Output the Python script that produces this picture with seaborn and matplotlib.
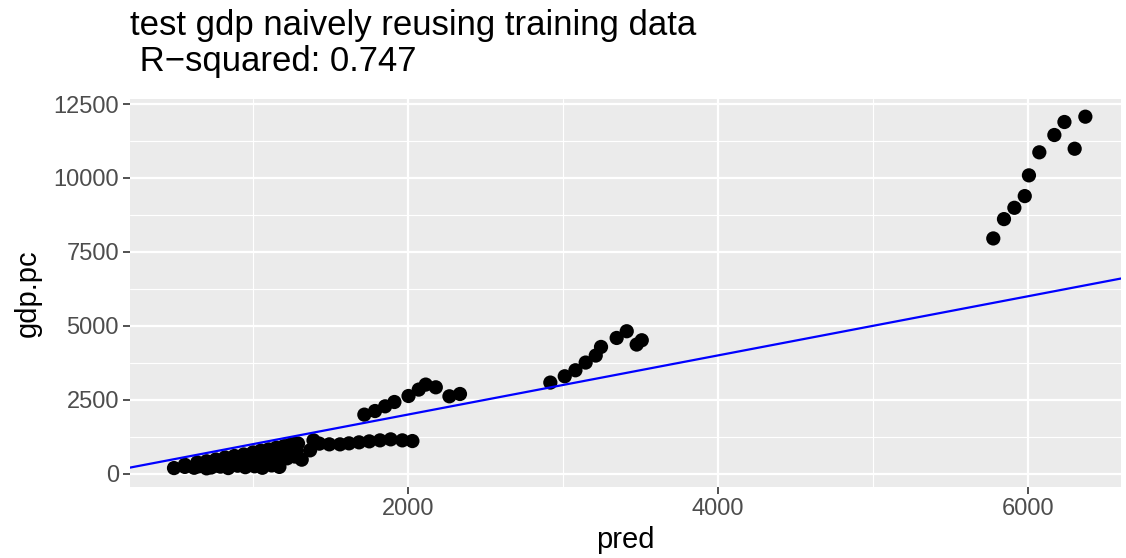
import seaborn as sns
import matplotlib.pyplot as plt
import pandas as pd
from matplotlib.ticker import MultipleLocator

# points, grouped by cluster
pred_low = [490, 560, 620, 680, 730, 790, 840, 900, 950, 1010, 1060, 1120, 1170,
            560, 640, 700, 760, 820, 880, 940, 1000, 1050, 1100, 1150, 1200, 1240, 1290,
            650, 720, 790, 850, 910, 970, 1030, 1080, 1130, 1180, 1230, 1280,
            700, 780, 860, 930, 990, 1050, 1110, 1170, 1220, 1270]
gdp_low = [190, 230, 200, 260, 210, 240, 190, 270, 220, 250, 200, 280, 230,
           300, 380, 420, 480, 550, 600, 650, 720, 780, 820, 880, 930, 980, 1020,
           250, 320, 360, 380, 420, 470, 500, 540, 600, 650, 700, 760,
           180, 260, 300, 340, 320, 380, 420, 480, 520, 580]

pred_flat = [2028, 1963, 1888, 1819, 1750, 1684, 1619, 1561, 1492, 1428, 1390, 1368, 1314, 1271]
gdp_flat = [1104, 1127, 1161, 1127, 1093, 1060, 1026, 992, 992, 1016, 1127, 789, 474, 1016]

pred_up = [1718, 1787, 1852, 1912, 2003, 2069, 2114, 2179, 2267, 2335]
gdp_up = [1997, 2119, 2278, 2424, 2627, 2844, 3013, 2921, 2617, 2695]

pred_mid = [2918, 3011, 3080, 3146, 3211, 3245, 3346, 3411, 3475, 3508]
gdp_mid = [3081, 3294, 3497, 3758, 3995, 4286, 4590, 4817, 4367, 4512]

pred_high = [5776, 5845, 5912, 5979, 6006, 6073, 6170, 6235, 6370, 6301]
gdp_high = [7955, 8609, 8991, 9387, 10088, 10867, 11452, 11892, 12072, 10988]

intercept = 0
slope = 1
r_squared = 0.747

df = pd.DataFrame({
    'pred': pred_low + pred_flat + pred_up + pred_mid + pred_high,
    'gdp.pc': gdp_low + gdp_flat + gdp_up + gdp_mid + gdp_high,
})

sns.set_theme(style='darkgrid', rc={
    'axes.facecolor': '#EBEBEB',
    'grid.color': 'white',
    'axes.edgecolor': '#EBEBEB',
    'xtick.color': '#333333',
    'ytick.color': '#333333',
})
plt.rcParams['font.family'] = ['Liberation Sans', 'DejaVu Sans']

fig = plt.figure(figsize=(11.26, 5.58), dpi=100)
ax = fig.add_axes([130 / 1126, 1 - 487 / 558, 991 / 1126, 388 / 558])

sns.scatterplot(data=df, x='pred', y='gdp.pc', color='black', s=105,
                edgecolor='none', ax=ax, zorder=3)
ax.axline((0, intercept), slope=slope, color='blue', lw=1.6, zorder=4)

ax.set_xlim(206, 6600)
ax.set_ylim(-450, 12670)
ax.xaxis.set_major_locator(MultipleLocator(2000))
ax.xaxis.set_minor_locator(MultipleLocator(1000))
ax.yaxis.set_major_locator(MultipleLocator(2500))
ax.yaxis.set_minor_locator(MultipleLocator(1250))
ax.grid(which='major', color='white', lw=1.6)
ax.grid(which='minor', color='white', lw=0.8)
ax.set_axisbelow(True)
for s in ax.spines.values():
    s.set_visible(False)
ax.tick_params(which='major', length=5, width=1.2, labelsize=17, labelcolor='#4D4D4D',
               bottom=True, left=True, pad=3)
ax.tick_params(which='minor', length=0)

ax.set_xlabel('pred', fontsize=21, color='black', labelpad=4)
ax.set_ylabel('gdp.pc', fontsize=21, color='black', labelpad=8)

fig.text(130 / 1126, 1 - 9 / 558,
         'test gdp naively reusing training data\n R\u2212squared: %.3f' % r_squared,
         ha='left', va='top', fontsize=25, linespacing=1.12, color='black')

fig.savefig('out.png', dpi=100)
